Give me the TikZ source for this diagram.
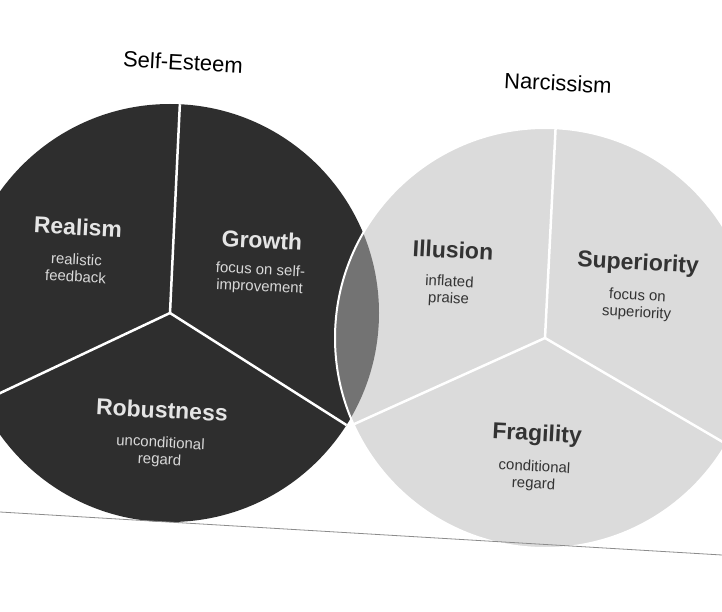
\documentclass[tikz,border=0pt]{standalone}
\usepackage{fontspec}
\setmainfont{Liberation Sans}
\begin{document}
\begin{tikzpicture}[x=1pt,y=-1pt,
  title/.style={font=\fontsize{22}{24}\selectfont,rotate=-3},
  head/.style={font=\bfseries\fontsize{23}{25}\selectfont,rotate=-3},
  sub/.style={font=\fontsize{15}{17}\selectfont,align=center,rotate=-3,inner sep=1pt},
  divider/.style={white,line width=2.5pt}]
\useasboundingbox[fill=white] (0,0) rectangle (722,612);
\coordinate (c1) at (170,313);
\coordinate (c2) at (545,338);
\fill[black!82] (c1) circle[radius=209];
\fill[black!14] (c2) circle[radius=210];
\begin{scope}
\clip (c1) circle[radius=209];
\fill[black!55] (c2) circle[radius=210];
\end{scope}
\begin{scope}
\clip (c1) circle[radius=209];
\draw[divider] (c1) -- (181,80);
\draw[divider] (c1) -- (-40,412);
\draw[divider] (c1) -- (370,440);
\end{scope}
\begin{scope}
\clip (c2) circle[radius=210];
\draw[divider] (c2) -- (557,100);
\draw[divider] (c2) -- (330,435);
\draw[divider] (c2) -- (745,455);
\end{scope}
\draw[white,line width=2pt] (c2) circle[radius=210];
\coordinate (l1) at (0,512);
\coordinate (l2) at (722,555);
\draw[black!45,line width=0.8pt] (l1) -- (l2);
\node[title] (t1) at (183,62) {Self-Esteem};
\node[title] (t2) at (558,83) {Narcissism};
\node[head,white!90!black] (h1) at (78,227) {Realism};
\node[sub,white!85!black] (s1) at (76,268) {realistic\\feedback};
\node[head,white!90!black] (h2) at (262,240) {Growth};
\node[sub,white!85!black] (s2) at (260,279) {focus on self-\\improvement};
\node[head,white!90!black] (h3) at (162,410) {Robustness};
\node[sub,white!85!black] (s3) at (160,452) {unconditional\\regard};
\node[head,black!80] (h4) at (453,250) {Illusion};
\node[sub,black!80] (s4) at (449,291) {inflated\\praise};
\node[head,black!80] (h5) at (638,264) {Superiority};
\node[sub,black!80] (s5) at (637,305) {focus on\\superiority};
\node[head,black!80] (h6) at (537,435) {Fragility};
\node[sub,black!80] (s6) at (534,476) {conditional\\regard};
\end{tikzpicture}
\end{document}
